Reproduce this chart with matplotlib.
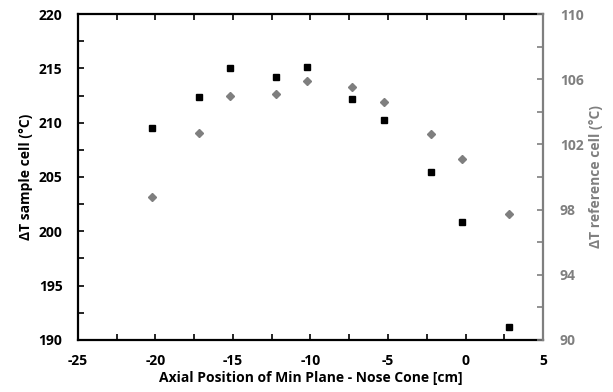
import numpy as np
import matplotlib
matplotlib.use('Agg')
import matplotlib.pyplot as plt
from matplotlib.ticker import MultipleLocator, FixedLocator

plt.rcParams['font.family'] = ['Open Sans', 'DejaVu Sans']
plt.rcParams['font.weight'] = 'bold'
plt.rcParams['axes.unicode_minus'] = False

# axial position (cm)
pos = [-20.2, -17.2, -15.2, -12.25, -10.25, -7.3, -5.25, -2.25, -0.2, 2.8]
# delta T sample cell (C), left axis
dt_sample = [209.5, 212.4, 215.0, 214.2, 215.1, 212.2, 210.25, 205.5, 200.85, 191.2]
# delta T reference cell (C), right axis
dt_ref = [98.8, 102.7, 105.0, 105.1, 105.9, 105.5, 104.6, 102.65, 101.1, 97.7]
ref_ticks = [90, 94, 98, 102, 106, 110]
ref_minor = [92, 96, 100, 104, 108]

gray = '#7f7f7f'

fig = plt.figure(figsize=(6.13, 3.92), dpi=100)
ax = fig.add_axes([0.127, 0.133, 0.759, 0.831])
ax2 = ax.twinx()

ax.plot(pos, dt_sample, 's', color='black', markersize=5, zorder=3)
ax2.plot(pos, dt_ref, 'D', color=gray, markersize=4.3, zorder=3)

ax.set_xlim(-25, 5)
ax.set_ylim(190, 220)
ax2.set_ylim(90, 110)

ax.xaxis.set_major_locator(MultipleLocator(5))
ax.xaxis.set_minor_locator(MultipleLocator(2.5))
ax.yaxis.set_major_locator(MultipleLocator(5))
ax.yaxis.set_minor_locator(MultipleLocator(2.5))
ax2.yaxis.set_major_locator(FixedLocator(ref_ticks))
ax2.yaxis.set_minor_locator(FixedLocator(ref_minor))

for s in ['left', 'bottom', 'top']:
    ax.spines[s].set_linewidth(1.6)
ax.spines['right'].set_visible(False)
for s in ['left', 'bottom', 'top']:
    ax2.spines[s].set_visible(False)
ax2.spines['right'].set_linewidth(1.6)
ax2.spines['right'].set_color(gray)

ax.tick_params(axis='both', which='both', direction='in', width=1.2, length=4,
               labelsize=10, top=True)
ax.tick_params(axis='y', pad=11)
ax.tick_params(axis='x', pad=10, labeltop=False)
ax2.tick_params(axis='y', which='both', direction='in', width=1.2, length=4, colors=gray,
                labelsize=10, pad=12)

ax.set_xlabel('Axial Position of Min Plane - Nose Cone [cm]', fontsize=10, fontweight='bold', labelpad=2)
ax.set_ylabel('ΔT sample cell (°C)', fontsize=10, fontweight='bold', labelpad=4)
ax2.set_ylabel('ΔT reference cell (°C)', fontsize=10, fontweight='bold', color=gray, labelpad=4)

fig.savefig('out.png', dpi=100)
